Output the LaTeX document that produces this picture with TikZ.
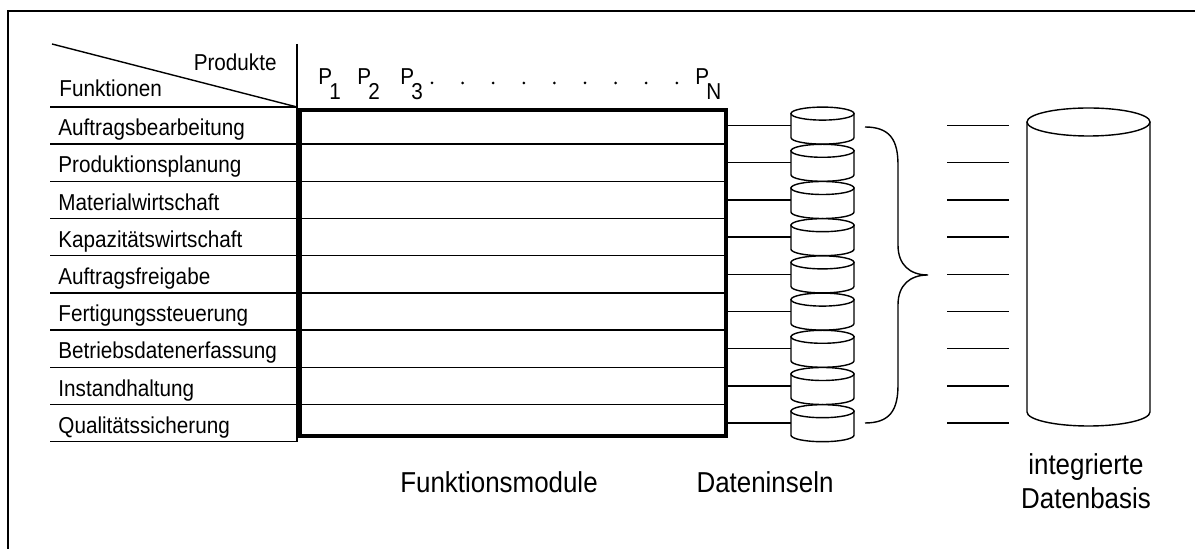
\documentclass[tikz,border=0pt]{standalone}
\usepackage{fontspec}
\setmainfont[FakeStretch=0.9]{Liberation Sans}
\newcommand\tabfont{\fontsize{11.5pt}{13pt}\selectfont}
\newcommand\bigfont{\fontsize{14.4pt}{17pt}\selectfont}
\begin{document}
\begin{tikzpicture}[x=0.5pt,y=-0.5pt,
  thinline/.style={line width=0.7pt},
  lbl/.style={inner sep=0pt, font=\tabfont},
  biglbl/.style={inner sep=0pt, font=\bigfont},
  cyl/.style={line width=0.7pt, fill=white}]
\useasboundingbox (0,0) rectangle (1195,549);
% frame
\draw[line width=1.2pt] (8,549) -- (8,11) -- (1195,11);
% header
\draw[thinline] (52,44) -- (297,107);
\draw[thinline] (297,44) -- (297,442);
\node[lbl, anchor=base east] (prod) at (277,71) {Produkte};
\node[lbl, anchor=base west] (funk) at (59,97) {Funktionen};
% product labels
\foreach \x/\s/\n in {318/1/p1, 357/2/p2, 400/3/p3, 695/N/pn} {
  \node[lbl, anchor=base west] (\n) at (\x,85) {P};
  \node[lbl, anchor=base west] (\n s) at (\x+11,100) {\s};
}
\foreach \k in {0,...,8} \fill ({432+30.6*\k},83) circle[radius=0.75pt];
% row lines
\foreach \k in {0,...,9} \draw[thinline] (50,{107+37.2*\k}) -- (297,{107+37.2*\k});
\foreach \k in {1,...,8} \draw[thinline] (297,{107+37.2*\k}) -- (726,{107+37.2*\k});
% function module box
\node[draw, line width=2pt, outer sep=0pt, inner sep=0pt,
      minimum width=213pt, minimum height=163pt] (box) at (513.25,273.5) {};
% row labels
\foreach \t [count=\i from 0] in {Auftragsbearbeitung, Produktionsplanung, Materialwirtschaft,
   Kapazitätswirtschaft, Auftragsfreigabe, Fertigungssteuerung, Betriebsdatenerfassung,
   Instandhaltung, Qualitätssicherung}
  \node[lbl, anchor=base west] (f\i) at (58,{107+37.2*(\i+1)-8.5}) {\t};
% data islands
\foreach \i in {0,...,8} {
  \pgfmathsetmacro\cy{125.6+37.2*\i}
  \node[inner sep=0pt, outer sep=0pt, minimum width=31.5pt, minimum height=12pt] (d\i) at (822.5,\cy) {};
  \draw[cyl] (791,\cy-12) -- (791,\cy+12) arc[start angle=180, end angle=360, x radius=15.75pt, y radius=3.25pt] -- (854,\cy-12) -- cycle;
  \draw[cyl] (822.5,\cy-12) ellipse[x radius=15.75pt, y radius=3.25pt];
  \draw[thinline] (box.east |- d\i) -- (d\i.west);
  \coordinate (r\i a) at (947,\cy);
  \coordinate (r\i b) at (1009,\cy);
  \draw[thinline] (r\i a) -- (r\i b);
}
% brace
\draw[thinline] (865,127) .. controls (890,127) and (898,140) .. (898,165) -- (898,245)
  .. controls (898,265) and (910,275) .. (928,275)
  .. controls (910,275) and (898,285) .. (898,305) -- (898,385)
  .. controls (898,410) and (890,423) .. (865,423);
% integrated database
\node[inner sep=0pt, outer sep=0pt, minimum width=61.5pt, minimum height=145pt] (db) at (1088.5,267) {};
\draw[cyl] (1027,122) -- (1027,412) arc[start angle=180, end angle=360, x radius=30.75pt, y radius=7pt] -- (1150,122);
\draw[cyl] (1088.5,122) ellipse[x radius=30.75pt, y radius=7pt];
% captions
\node[biglbl, anchor=base] (cap1) at (499,493) {Funktionsmodule};
\node[biglbl, anchor=base] (cap2) at (765,493) {Dateninseln};
\node[biglbl, anchor=base] (cap3) at (1086,475) {integrierte};
\node[biglbl, anchor=base] (cap4) at (1086,509) {Datenbasis};
\end{tikzpicture}
\end{document}
